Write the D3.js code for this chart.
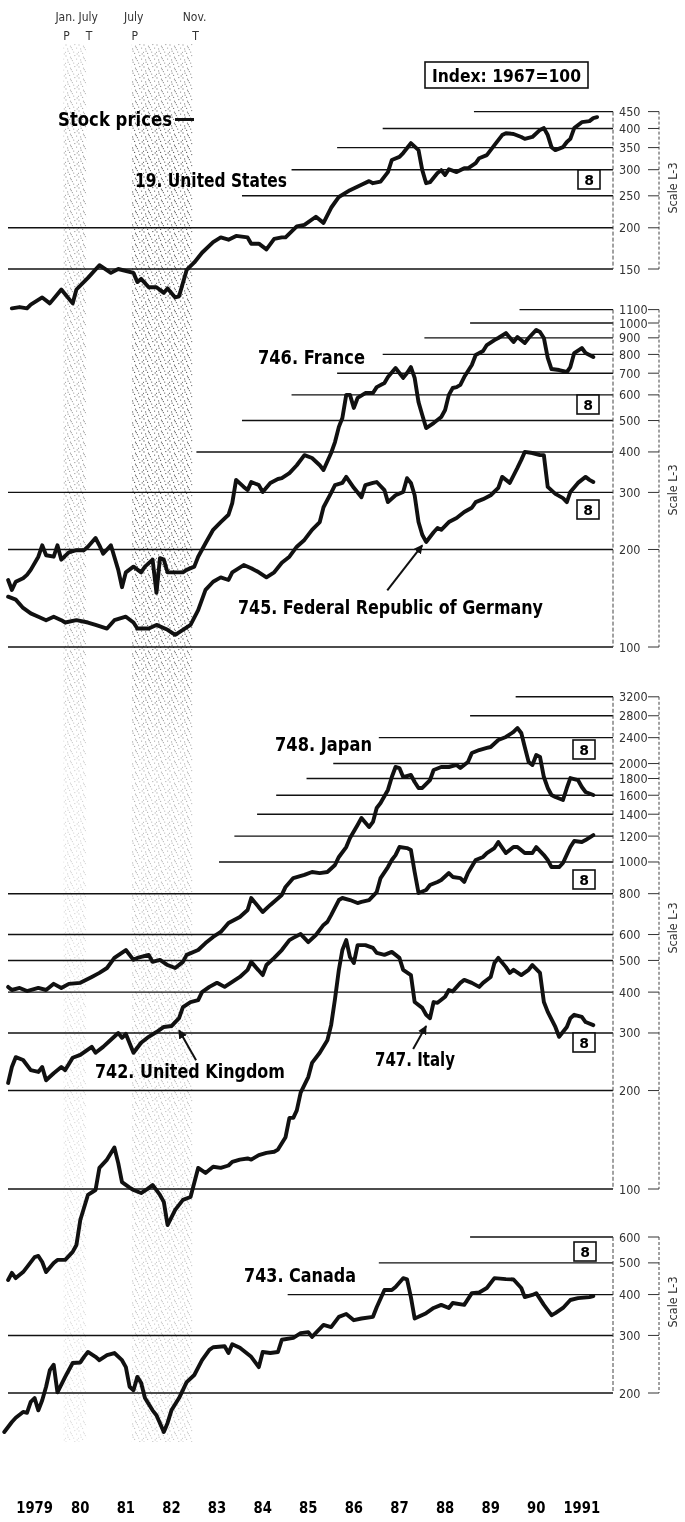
<!DOCTYPE html>
<html>
<head>
<meta charset="utf-8">
<script src="https://cdn.jsdelivr.net/npm/d3@7"></script>
<style>
  html, body { margin: 0; padding: 0; background: #fff; }
  svg { display: block; }
  .bold { font-family: "DejaVu Sans", "Liberation Sans", Arial, sans-serif; font-weight: bold; fill: #000; }
  .narrow { font-family: "Liberation Sans Narrow", "DejaVu Sans Condensed", "Liberation Sans", sans-serif; fill: #333; }
</style>
</head>
<body>
<svg id="chart" width="685" height="1522"></svg>
<script>
// ---- Business-cycle reference dates (peak / trough months) ----
const recessions = [
  { peak: "1980-01", trough: "1980-07" },
  { peak: "1981-07", trough: "1982-11" }
];

// ---- Year labels along the bottom ----
const yearLabels = ["1979", "80", "81", "82", "83", "84", "85", "86", "87", "88", "89", "90", "1991"];

// ---- Right-hand log-scale tick labels per panel ----
const usTicks = [150, 200, 250, 300, 350, 400, 450];
const europeTicks = [100, 200, 300, 400, 500, 600, 700, 800, 900, 1000, 1100];
const asiaTicks = [100, 200, 300, 400, 500, 600, 800, 1000, 1200, 1400, 1600, 1800, 2000, 2400, 2800, 3200];
const canadaTicks = [200, 300, 400, 500, 600];

// ---- Stock price indexes, 1967 = 100 (month, value) ----
const unitedStates = [["1978-12",114],["1979-02",115],["1979-04",114],["1979-05",117],["1979-08",123],["1979-10",118],["1980-01",130],["1980-04",118],["1980-05",130],["1980-08",141],["1980-11",154],["1981-02",146],["1981-04",150],["1981-08",146],["1981-09",137],["1981-10",140],["1981-12",132],["1982-02",132],["1982-04",127],["1982-05",131],["1982-07",123],["1982-08",124],["1982-10",149],["1982-12",157],["1983-02",168],["1983-05",181],["1983-07",187],["1983-09",184],["1983-11",189],["1984-02",187],["1984-03",179],["1984-05",179],["1984-07",172],["1984-09",185],["1984-11",187],["1984-12",187],["1985-03",202],["1985-05",204],["1985-08",216],["1985-10",207],["1985-12",230],["1986-02",248],["1986-05",260],["1986-08",270],["1986-10",277],["1986-11",273],["1987-01",276],["1987-03",295],["1987-04",321],["1987-06",328],["1987-07",337],["1987-09",361],["1987-11",344],["1987-12",299],["1988-01",273],["1988-02",275],["1988-04",293],["1988-05",299],["1988-06",289],["1988-07",301],["1988-09",295],["1988-11",303],["1988-12",303],["1989-02",314],["1989-03",325],["1989-05",332],["1989-07",356],["1989-09",382],["1989-10",387],["1989-12",385],["1990-02",377],["1990-03",372],["1990-05",377],["1990-07",396],["1990-08",401],["1990-09",382],["1990-10",351],["1990-11",344],["1991-01",351],["1991-02",364],["1991-03",372],["1991-04",401],["1991-06",418],["1991-08",421],["1991-09",430],["1991-10",433]];

const france = [["1978-11",161],["1978-12",150],["1979-01",159],["1979-03",163],["1979-04",167],["1979-05",173],["1979-07",190],["1979-08",206],["1979-09",192],["1979-11",190],["1979-12",206],["1980-01",186],["1980-03",196],["1980-05",199],["1980-07",199],["1980-08",204],["1980-10",217],["1980-11",206],["1980-12",194],["1981-02",206],["1981-04",173],["1981-05",153],["1981-06",170],["1981-08",177],["1981-10",170],["1981-11",177],["1982-01",186],["1982-02",147],["1982-03",188],["1982-04",186],["1982-05",170],["1982-07",170],["1982-09",170],["1982-10",173],["1982-12",177],["1983-01",190],["1983-03",209],["1983-05",230],["1983-07",243],["1983-09",256],["1983-10",278],["1983-11",328],["1984-01",312],["1984-02",305],["1984-03",323],["1984-05",316],["1984-06",301],["1984-08",321],["1984-10",330],["1984-11",332],["1985-01",344],["1985-03",364],["1985-05",391],["1985-07",383],["1985-09",364],["1985-10",352],["1985-12",397],["1986-01",429],["1986-02",478],["1986-03",509],["1986-04",600],["1986-05",600],["1986-06",547],["1986-07",587],["1986-09",608],["1986-11",608],["1986-12",634],["1987-02",653],["1987-03",681],["1987-05",726],["1987-06",701],["1987-07",677],["1987-08",701],["1987-09",731],["1987-10",677],["1987-11",570],["1987-12",520],["1988-01",474],["1988-03",491],["1988-05",513],["1988-06",539],["1988-07",600],["1988-08",630],["1988-09",634],["1988-10",644],["1988-11",681],["1989-01",742],["1989-02",797],["1989-04",820],["1989-05",855],["1989-07",886],["1989-08",899],["1989-10",931],["1989-12",874],["1990-01",905],["1990-03",868],["1990-04",899],["1990-06",952],["1990-07",938],["1990-08",899],["1990-09",780],["1990-10",721],["1990-12",716],["1991-02",706],["1991-03",731],["1991-04",808],["1991-06",837],["1991-07",808],["1991-09",785]];

const germany = [["1978-11",143],["1979-01",140],["1979-03",132],["1979-05",127],["1979-07",124],["1979-09",121],["1979-11",124],["1980-01",121],["1980-02",119],["1980-05",121],["1980-08",119],["1980-10",117],["1981-01",114],["1981-03",121],["1981-06",124],["1981-08",119],["1981-09",114],["1981-12",114],["1982-02",117],["1982-05",113],["1982-07",109],["1982-09",113],["1982-11",117],["1983-01",130],["1983-03",150],["1983-05",159],["1983-07",164],["1983-09",161],["1983-10",170],["1984-01",179],["1984-03",175],["1984-05",170],["1984-07",164],["1984-09",170],["1984-11",182],["1985-01",190],["1985-03",204],["1985-05",214],["1985-07",230],["1985-09",243],["1985-10",270],["1985-12",299],["1986-01",316],["1986-03",321],["1986-04",335],["1986-06",310],["1986-08",290],["1986-09",316],["1986-11",321],["1986-12",323],["1987-02",305],["1987-03",280],["1987-05",294],["1987-07",301],["1987-08",332],["1987-09",321],["1987-10",294],["1987-11",243],["1987-12",222],["1988-01",211],["1988-03",226],["1988-04",233],["1988-05",230],["1988-07",243],["1988-09",250],["1988-11",261],["1989-01",269],["1989-02",280],["1989-04",286],["1989-06",294],["1989-08",310],["1989-09",335],["1989-11",321],["1990-01",357],["1990-02",378],["1990-03",400],["1990-05",397],["1990-07",391],["1990-08",391],["1990-09",312],["1990-11",297],["1991-01",288],["1991-02",280],["1991-03",301],["1991-05",321],["1991-07",335],["1991-08",328],["1991-09",323]];

const japan = [["1978-11",415],["1978-12",406],["1979-02",412],["1979-04",403],["1979-07",412],["1979-09",406],["1979-11",424],["1980-01",412],["1980-03",424],["1980-06",427],["1980-09",445],["1980-11",458],["1981-01",474],["1981-03",509],["1981-06",538],["1981-08",502],["1981-09",509],["1981-12",520],["1982-01",495],["1982-03",502],["1982-05",484],["1982-07",474],["1982-09",495],["1982-10",520],["1983-01",538],["1983-03",565],["1983-05",590],["1983-07",611],["1983-09",651],["1983-12",679],["1984-02",713],["1984-03",776],["1984-06",703],["1984-08",739],["1984-11",793],["1984-12",839],["1985-02",893],["1985-05",913],["1985-07",932],["1985-09",925],["1985-11",932],["1986-01",979],["1986-02",1036],["1986-04",1111],["1986-05",1184],["1986-07",1298],["1986-08",1363],["1986-10",1279],["1986-11",1326],["1986-12",1463],["1987-01",1515],["1987-03",1661],["1987-04",1819],["1987-05",1952],["1987-06",1938],["1987-07",1819],["1987-09",1845],["1987-10",1756],["1987-11",1684],["1987-12",1684],["1988-02",1781],["1988-03",1911],["1988-05",1952],["1988-07",1952],["1988-09",1980],["1988-10",1938],["1988-12",2022],["1989-01",2154],["1989-03",2200],["1989-05",2232],["1989-06",2247],["1989-08",2361],["1989-10",2412],["1989-12",2498],["1990-01",2569],["1990-02",2480],["1990-03",2247],["1990-04",2022],["1990-05",1980],["1990-06",2124],["1990-07",2095],["1990-08",1819],["1990-09",1684],["1990-10",1603],["1990-11",1580],["1991-01",1547],["1991-02",1684],["1991-03",1806],["1991-05",1781],["1991-06",1696],["1991-07",1637],["1991-09",1603]];

const unitedKingdom = [["1978-11",211],["1978-12",236],["1979-01",253],["1979-03",248],["1979-05",231],["1979-07",228],["1979-08",236],["1979-09",215],["1979-11",226],["1980-01",236],["1980-02",231],["1980-04",252],["1980-06",257],["1980-09",272],["1980-10",261],["1980-12",272],["1981-02",286],["1981-04",300],["1981-05",290],["1981-06",298],["1981-08",261],["1981-10",280],["1981-12",292],["1982-02",302],["1982-04",313],["1982-06",315],["1982-08",333],["1982-09",360],["1982-11",373],["1983-01",378],["1983-02",400],["1983-04",415],["1983-06",427],["1983-08",415],["1983-10",430],["1983-12",445],["1984-02",468],["1984-03",495],["1984-06",451],["1984-07",484],["1984-09",509],["1984-11",538],["1985-01",577],["1985-02",586],["1985-04",602],["1985-06",569],["1985-08",598],["1985-10",642],["1985-11",656],["1985-12",688],["1986-02",765],["1986-03",776],["1986-05",765],["1986-07",749],["1986-08",755],["1986-10",765],["1986-12",809],["1987-01",893],["1987-03",965],["1987-04",1014],["1987-05",1050],["1987-06",1111],["1987-08",1103],["1987-09",1088],["1987-10",932],["1987-11",804],["1988-01",821],["1988-02",850],["1988-04",869],["1988-05",881],["1988-07",925],["1988-08",900],["1988-10",893],["1988-11",869],["1988-12",925],["1989-02",1014],["1989-04",1036],["1989-05",1065],["1989-07",1103],["1989-08",1151],["1989-10",1065],["1989-12",1111],["1990-01",1111],["1990-03",1065],["1990-05",1065],["1990-06",1111],["1990-08",1050],["1990-09",1014],["1990-10",965],["1990-12",965],["1991-01",993],["1991-03",1111],["1991-04",1159],["1991-06",1151],["1991-07",1167],["1991-09",1209]];

const italy = [["1978-11",52.7],["1978-12",55.4],["1979-01",53.4],["1979-03",55.7],["1979-04",57.7],["1979-06",61.9],["1979-07",62.4],["1979-08",59.8],["1979-09",55.7],["1979-11",59.4],["1979-12",60.7],["1980-02",60.7],["1980-04",64.2],["1980-05",67.4],["1980-06",80.4],["1980-08",95.9],["1980-10",99.3],["1980-11",116],["1981-01",123],["1981-03",134],["1981-04",120],["1981-05",105],["1981-07",101],["1981-08",99.3],["1981-10",97.2],["1981-12",100.7],["1982-01",102.9],["1982-03",95.9],["1982-04",91.3],["1982-05",77.6],["1982-07",86.3],["1982-09",92.6],["1982-11",94.5],["1983-01",116],["1983-03",112],["1983-05",117],["1983-07",116],["1983-09",118],["1983-10",121],["1983-12",123],["1984-02",124],["1984-03",123],["1984-05",127],["1984-07",129],["1984-09",130],["1984-10",132],["1984-12",144],["1985-01",165],["1985-02",165],["1985-03",174],["1985-04",197],["1985-06",220],["1985-07",243],["1985-09",261],["1985-11",285],["1985-12",317],["1986-01",381],["1986-02",468],["1986-03",538],["1986-04",577],["1986-05",512],["1986-06",491],["1986-07",557],["1986-09",557],["1986-11",546],["1986-12",527],["1987-02",520],["1987-04",531],["1987-06",509],["1987-07",468],["1987-09",451],["1987-10",373],["1987-12",358],["1988-01",341],["1988-02",333],["1988-03",373],["1988-04",371],["1988-06",387],["1988-07",406],["1988-08",402],["1988-10",427],["1988-11",436],["1989-01",427],["1989-03",415],["1989-04",427],["1989-06",445],["1989-07",491],["1989-08",509],["1989-10",477],["1989-11",458],["1989-12",468],["1990-02",451],["1990-04",468],["1990-05",484],["1990-07",458],["1990-08",373],["1990-09",348],["1990-11",313],["1990-12",292],["1991-02",313],["1991-03",333],["1991-04",341],["1991-06",336],["1991-07",324],["1991-09",317]];

const canada = [["1978-10",152],["1978-12",163],["1979-01",168],["1979-03",175],["1979-04",174],["1979-05",188],["1979-06",193],["1979-07",177],["1979-08",190],["1979-09",209],["1979-10",235],["1979-11",244],["1979-12",201],["1980-02",224],["1980-04",247],["1980-06",248],["1980-07",258],["1980-08",267],["1980-10",258],["1980-11",252],["1981-01",261],["1981-03",265],["1981-05",252],["1981-06",240],["1981-07",209],["1981-08",204],["1981-09",224],["1981-10",215],["1981-11",193],["1982-01",177],["1982-02",171],["1982-04",152],["1982-05",162],["1982-06",177],["1982-08",193],["1982-10",216],["1982-12",227],["1983-02",252],["1983-04",271],["1983-05",276],["1983-08",278],["1983-09",265],["1983-10",282],["1983-12",275],["1984-03",258],["1984-05",240],["1984-06",267],["1984-08",265],["1984-10",267],["1984-11",291],["1985-02",295],["1985-04",305],["1985-06",307],["1985-07",297],["1985-10",323],["1985-12",318],["1986-02",342],["1986-04",349],["1986-06",334],["1986-08",338],["1986-11",342],["1986-12",366],["1987-02",413],["1987-04",413],["1987-05",422],["1987-07",449],["1987-08",445],["1987-09",393],["1987-10",338],["1987-11",342],["1988-01",351],["1988-03",364],["1988-05",372],["1988-07",364],["1988-08",377],["1988-11",372],["1989-01",404],["1989-03",406],["1989-05",419],["1989-07",449],["1989-10",446],["1989-12",445],["1990-02",419],["1990-03",393],["1990-05",399],["1990-06",404],["1990-08",372],["1990-10",346],["1990-11",351],["1991-01",364],["1991-03",385],["1991-05",390],["1991-08",393],["1991-09",396]];

// ---- Layout ----
const svg = d3.select("#chart");
const plotLeft = 8, plotRight = 613;
const tickLabelX = 619, tickMarkX0 = 648, bracketX = 659, scaleTextX = 677;

const monthStart = s => { const [y, m] = s.split("-").map(Number); return new Date(y, m - 1, 1); };
const midMonth = s => { const [y, m] = s.split("-").map(Number); return new Date(y, m - 1, 15); };

const x = d3.scaleTime()
  .domain([new Date(1979, 0, 1), new Date(1992, 0, 1)])
  .range([14, 606.8]);

// each panel: log scale, gridline start months for the staggered upper rules
const panels = {
  us:     { ticks: usTicks,     y: d3.scaleLog().domain([150, 450]).range([269, 111.6]),
            starts: { 250: "1984-01", 300: "1985-02", 350: "1986-02", 400: "1987-02", 450: "1989-02" }, scaleY: 188 },
  europe: { ticks: europeTicks, y: d3.scaleLog().domain([100, 1100]).range([647, 309.6]),
            starts: { 400: "1983-01", 500: "1984-01", 600: "1985-02", 700: "1986-02", 800: "1987-02", 900: "1988-01", 1000: "1989-01", 1100: "1990-02" }, scaleY: 490 },
  asia:   { ticks: asiaTicks,   y: d3.scaleLog().domain([100, 3200]).range([1189, 696.8]),
            starts: { 1000: "1983-07", 1200: "1983-11", 1400: "1984-05", 1600: "1984-10", 1800: "1985-06", 2000: "1986-01", 2400: "1987-01", 2800: "1989-01", 3200: "1990-01" }, scaleY: 928 },
  canada: { ticks: canadaTicks, y: d3.scaleLog().domain([200, 600]).range([1393, 1237]),
            starts: { 400: "1985-01", 500: "1987-01", 600: "1989-01" }, scaleY: 1302 }
};

const series = [
  { data: unitedStates,  panel: "us" },
  { data: france,        panel: "europe" },
  { data: germany,       panel: "europe" },
  { data: japan,         panel: "asia" },
  { data: unitedKingdom, panel: "asia" },
  { data: italy,         panel: "asia" },
  { data: canada,        panel: "canada" }
];

// ---- Recession shading (stippled, fading down the page) ----
const defs = svg.append("defs");
const pat = defs.append("pattern").attr("id", "stipple")
  .attr("width", 13).attr("height", 11).attr("patternUnits", "userSpaceOnUse");
[[1, 1], [5.5, 2.2], [9.8, 0.6], [2.6, 4.9], [7.4, 5.6], [11.6, 4.1], [0.4, 8.3],
 [4.6, 9.4], [8.7, 8.1], [12.2, 9.9], [6.3, 3.7], [3.1, 7.2]].forEach(([cx, cy]) =>
  pat.append("circle").attr("cx", cx).attr("cy", cy).attr("r", 0.65).attr("fill", "#555"));

const fade = defs.append("linearGradient").attr("id", "fade")
  .attr("x1", 0).attr("y1", 0).attr("x2", 0).attr("y2", 1);
[[0, 0.55], [0.08, 1], [0.42, 0.95], [0.52, 0.45], [1, 0.35]].forEach(([o, v]) =>
  fade.append("stop").attr("offset", o).attr("stop-color", "#fff").attr("stop-opacity", v));
const mask = defs.append("mask").attr("id", "fadeMask").attr("maskUnits", "userSpaceOnUse")
  .attr("x", 0).attr("y", 0).attr("width", 685).attr("height", 1522);
mask.append("rect").attr("x", 0).attr("y", 44).attr("width", 685).attr("height", 1398).attr("fill", "url(#fade)");

defs.append("marker").attr("id", "arrowhead")
  .attr("viewBox", "0 0 10 10").attr("refX", 9).attr("refY", 5)
  .attr("markerWidth", 4.5).attr("markerHeight", 4.5).attr("orient", "auto")
  .append("path").attr("d", "M0,0 L10,5 L0,10 z").attr("fill", "#111");

const monthNames = ["Jan.", "Feb.", "Mar.", "Apr.", "May", "June", "July", "Aug.", "Sept.", "Oct.", "Nov.", "Dec."];
const shade = svg.append("g").attr("mask", "url(#fadeMask)");
recessions.forEach((r, i) => {
  const x0 = x(d3.timeMonth.offset(monthStart(r.peak), 1));
  const x1 = x(d3.timeMonth.offset(monthStart(r.trough), 1));
  shade.append("rect").attr("x", x0).attr("y", 44).attr("width", x1 - x0).attr("height", 1398)
    .attr("fill", "url(#stipple)").attr("opacity", i === 0 ? 0.6 : 1);
  [[r.peak, "P", x0], [r.trough, "T", x1]].forEach(([m, letter, xx]) => {
    const mi = +m.split("-")[1] - 1;
    svg.append("text").attr("class", "narrow").attr("x", xx + 2).attr("y", 21)
      .attr("text-anchor", "middle").attr("font-size", 12).attr("fill", "#111").text(monthNames[mi]);
    svg.append("text").attr("class", "narrow").attr("x", xx + 3).attr("y", 40)
      .attr("text-anchor", "middle").attr("font-size", 12).attr("fill", "#111").text(letter);
  });
});

// ---- Gridlines and right-hand scales ----
Object.values(panels).forEach(p => {
  const g = svg.append("g");
  const yTop = p.y(p.y.domain()[1]), yBot = p.y(p.y.domain()[0]);
  p.ticks.forEach(v => {
    const xs = p.starts[v] ? x(monthStart(p.starts[v])) : plotLeft;
    g.append("line").attr("x1", xs).attr("x2", plotRight)
      .attr("y1", p.y(v)).attr("y2", p.y(v))
      .attr("stroke", "#111").attr("stroke-width", 1.4);
    g.append("text").attr("class", "narrow").attr("x", tickLabelX).attr("y", p.y(v) + 4.5)
      .attr("font-size", 12.5).text(v);
    g.append("line").attr("x1", tickMarkX0).attr("x2", bracketX)
      .attr("y1", p.y(v)).attr("y2", p.y(v)).attr("stroke", "#333").attr("stroke-width", 1);
  });
  g.append("line").attr("x1", plotRight).attr("x2", plotRight).attr("y1", yTop).attr("y2", yBot)
    .attr("stroke", "#444").attr("stroke-width", 1).attr("stroke-dasharray", "4,2");
  g.append("line").attr("x1", bracketX).attr("x2", bracketX).attr("y1", yTop).attr("y2", yBot)
    .attr("stroke", "#444").attr("stroke-width", 1).attr("stroke-dasharray", "3,2");
  g.append("text").attr("class", "narrow").attr("font-size", 12.5)
    .attr("transform", `translate(${scaleTextX},${p.scaleY}) rotate(-90)`)
    .attr("text-anchor", "middle").text("Scale L-3");
});

// ---- Series lines ----
series.forEach(s => {
  const p = panels[s.panel];
  const line = d3.line().x(d => x(midMonth(d[0]))).y(d => p.y(d[1]));
  svg.append("path").datum(s.data).attr("d", line)
    .attr("fill", "none").attr("stroke", "#111").attr("stroke-width", 3.9)
    .attr("stroke-linejoin", "round").attr("stroke-linecap", "round");
});

// ---- Labels (heavy, condensed) ----
function boldText(t, xx, yy, size, len, anchor) {
  svg.append("text").attr("class", "bold").attr("x", xx).attr("y", yy)
    .attr("font-size", size).attr("text-anchor", anchor || "start")
    .attr("textLength", len).attr("lengthAdjust", "spacingAndGlyphs")
    .text(t);
}
boldText("Stock prices", 58, 126, 19, 114);
svg.append("line").attr("x1", 175).attr("x2", 194).attr("y1", 119.5).attr("y2", 119.5)
  .attr("stroke", "#111").attr("stroke-width", 3);
boldText("19. United States", 135, 187, 19, 152);
boldText("746. France", 258, 364, 19, 107);
boldText("745. Federal Republic of Germany", 238, 614, 19, 305);
boldText("748. Japan", 275, 751, 19, 97);
boldText("742. United Kingdom", 95, 1078, 19, 190);
boldText("747. Italy", 375, 1066, 19, 80);
boldText("743. Canada", 244, 1282, 19, 112);

svg.append("rect").attr("x", 425).attr("y", 62).attr("width", 163).attr("height", 26)
  .attr("fill", "#fff").attr("stroke", "#111").attr("stroke-width", 1.6);
boldText("Index: 1967=100", 432, 82, 17, 149);

// boxed "8" (release-timing code) at the right of each series
const codeBoxes = [[578, 170], [577, 395], [577, 500], [573, 740], [573, 870], [573, 1033], [574, 1242]];
codeBoxes.forEach(([bx, by]) => {
  svg.append("rect").attr("x", bx).attr("y", by).attr("width", 22).attr("height", 19)
    .attr("fill", "#fff").attr("stroke", "#111").attr("stroke-width", 1.6);
  svg.append("text").attr("class", "bold").attr("x", bx + 11).attr("y", by + 15)
    .attr("text-anchor", "middle").attr("font-size", 14).text("8");
});

// pointer arrows from labels to their series
const pointers = [
  { panel: "europe", tip: ["1987-12", 206], dx: -35, dy: 45 },
  { panel: "asia",   tip: ["1982-08", 306], dx: 17,  dy: 30 },
  { panel: "asia",   tip: ["1988-01", 315], dx: -13, dy: 23 }
];
pointers.forEach(a => {
  const tx = x(midMonth(a.tip[0])), ty = panels[a.panel].y(a.tip[1]);
  svg.append("line").attr("x1", tx + a.dx).attr("y1", ty + a.dy).attr("x2", tx).attr("y2", ty)
    .attr("stroke", "#111").attr("stroke-width", 2).attr("marker-end", "url(#arrowhead)");
});

// ---- Year axis ----
yearLabels.forEach((lab, i) => {
  boldText(lab, x(new Date(1979 + i, 5, 15)), 1513, 16, lab.length * 9.2, "middle");
});
</script>
</body>
</html>
